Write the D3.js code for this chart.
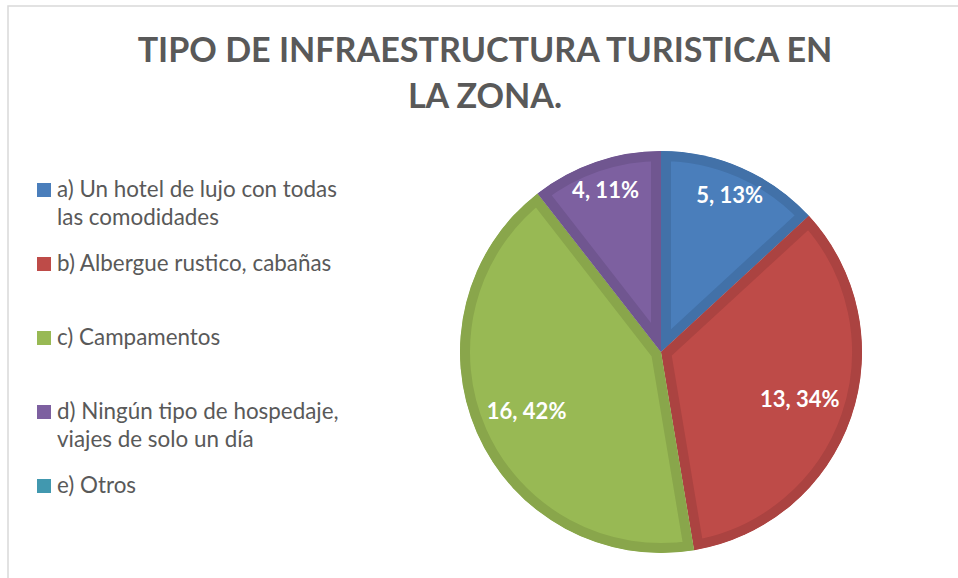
<!DOCTYPE html>
<html>
<head>
<meta charset="utf-8">
<script src="https://cdn.jsdelivr.net/npm/d3@7"></script>
<style>
  body { margin: 0; background: #fff; }
  svg { display: block; }
</style>
</head>
<body>
<div id="chart"></div>
<script>
// chart data
const categories = [
  "a) Un hotel de lujo con todas las comodidades",
  "b) Albergue rustico, cabañas",
  "c) Campamentos",
  "d) Ningún tipo de hospedaje, viajes de solo un día",
  "e) Otros"
];
const legendLines = [
  ["a) Un hotel de lujo con todas", "las comodidades"],
  ["b) Albergue rustico, cabañas"],
  ["c) Campamentos"],
  ["d) Ningún tipo de hospedaje,", "viajes de solo un día"],
  ["e) Otros"]
];
const values = [5, 13, 16, 4, 0];
const percents = ["13%", "34%", "42%", "11%", "0%"];
const colors = ["#4a7ebb", "#be4b48", "#98b954", "#7d60a0", "#4198af"];
const titleLines = ["TIPO DE INFRAESTRUCTURA TURISTICA EN", "LA ZONA."];

function drawPie() {
  const width = 958, height = 578;
  const cx = 661, cy = 352, radius = 201;

  const svg = d3
    .select("#chart")
    .append("svg")
    .attr("width", width)
    .attr("height", height);

  // chart frame
  svg
    .append("rect")
    .attr("x", 8)
    .attr("y", 6)
    .attr("width", 1000)
    .attr("height", 700)
    .style("fill", "none")
    .style("stroke", "#d9d9d9")
    .style("stroke-width", 1.5);

  // fit a text element to a target width by scaling its font size
  const fit = function (sel, target) {
    const w = sel.node().getComputedTextLength();
    const fs = parseFloat(sel.style("font-size"));
    sel.style("font-size", (fs * target) / w + "px");
  };

  // title
  const title = svg
    .selectAll(".title")
    .data(titleLines)
    .join("text")
    .attr("class", "title")
    .attr("x", 485)
    .attr("y", (d, i) => 62 + i * 46)
    .attr("text-anchor", "middle")
    .style("font-family", "Lato, sans-serif")
    .style("font-weight", "bold")
    .style("font-size", "30px")
    .style("fill", "#595959")
    .text((d) => d);
  fit(title.filter((d, i) => i === 0), 695);
  title.style("font-size", title.filter((d, i) => i === 0).style("font-size"));

  // pie
  const pie = d3.pie().sort(null).value((d) => d);
  const arcs = pie(values);
  const arc = d3.arc().innerRadius(0).outerRadius(radius);

  const g = svg.append("g").attr("transform", `translate(${cx}, ${cy})`);

  g.selectAll("clipPath")
    .data(arcs)
    .join("clipPath")
    .attr("id", (d, i) => "clip" + i)
    .append("path")
    .attr("d", arc);

  g.selectAll(".slice")
    .data(arcs.filter((d) => d.value > 0))
    .join("path")
    .attr("class", "slice")
    .attr("d", arc)
    .attr("clip-path", (d) => `url(#clip${d.index})`)
    .style("fill", (d) => colors[d.index])
    .style("stroke", (d) => d3.color(colors[d.index]).darker(0.3))
    .style("stroke-width", 20)
    .style("stroke-linejoin", "miter");

  // data labels
  const total = d3.sum(values);
  g.selectAll(".label")
    .data(arcs.filter((d) => d.value > 0))
    .join("text")
    .attr("class", "label")
    .attr("transform", function (d) {
      const f = d.value / total < 0.2 ? 0.85 : 0.73;
      const a = (d.startAngle + d.endAngle) / 2;
      return `translate(${Math.sin(a) * radius * f}, ${-Math.cos(a) * radius * f})`;
    })
    .attr("text-anchor", "middle")
    .attr("dy", "0.35em")
    .style("font-family", "Lato, sans-serif")
    .style("font-weight", "bold")
    .style("font-size", "22px")
    .style("fill", "#fff")
    .text((d) => d.value + ", " + percents[d.index]);

  // legend
  const legend = svg
    .selectAll(".legend")
    .data(categories)
    .join("g")
    .attr("class", "legend")
    .attr("transform", (d, i) => `translate(37, ${190 + i * 74})`);

  legend
    .append("rect")
    .attr("x", 0)
    .attr("y", -7)
    .attr("width", 14)
    .attr("height", 14)
    .style("fill", (d, i) => colors[i]);

  const ltext = legend
    .selectAll("text")
    .data((d, i) => legendLines[i])
    .join("text")
    .attr("x", 20)
    .attr("y", (d, j) => 7 + j * 28)
    .style("font-family", "Lato, sans-serif")
    .style("font-size", "20px")
    .style("fill", "#595959")
    .text((d) => d);
  const first = ltext.filter((d) => d === legendLines[0][0]);
  fit(first, 280);
  ltext.style("font-size", first.style("font-size"));
}

drawPie();
</script>
</body>
</html>
